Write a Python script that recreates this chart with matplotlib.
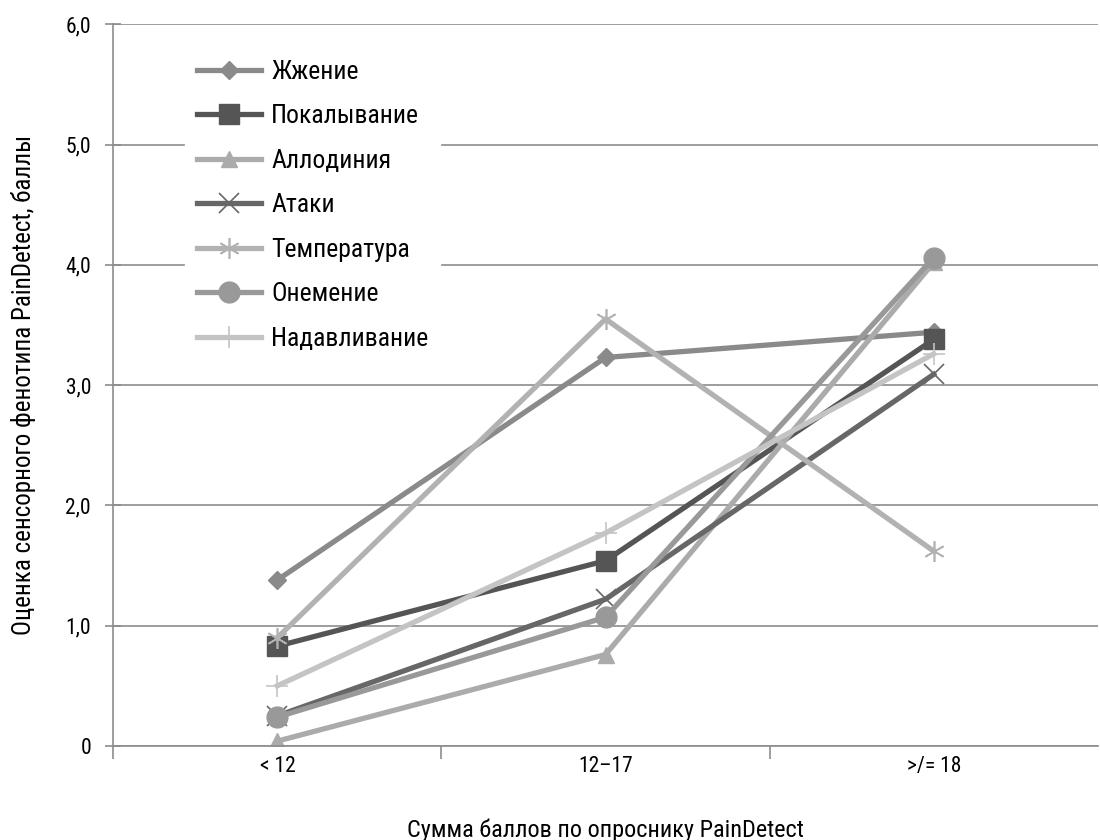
import numpy as np
import matplotlib.pyplot as plt
import logging

logging.getLogger("matplotlib.font_manager").setLevel(logging.ERROR)
plt.rcParams['font.family'] = ['Roboto Condensed', 'Liberation Sans Narrow',
                               'Liberation Sans', 'DejaVu Sans']

# DATA
groups = ["< 12", "12–17", ">/= 18"]
series_names = ["Жжение", "Покалывание", "Аллодиния", "Атаки",
                "Температура", "Онемение", "Надавливание"]
zhzhenie = [1.38, 3.23, 3.44]
pokalyvanie = [0.83, 1.54, 3.38]
allodiniya = [0.04, 0.76, 4.02]
ataki = [0.25, 1.22, 3.09]
temperatura = [0.90, 3.55, 1.62]
onemenie = [0.24, 1.07, 4.06]
nadavlivanie = [0.50, 1.77, 3.26]
values = [zhzhenie, pokalyvanie, allodiniya, ataki,
          temperatura, onemenie, nadavlivanie]

# STYLE
colors = ["#8a8a8a", "#555555", "#ababab", "#676767",
          "#b2b2b2", "#999999", "#c4c4c4"]
markers = ["D", "s", "^", "x", "*", "o", "+"]
msizes = [9, 14, 12, 14, 15, 15, 16]

fig = plt.figure(figsize=(11, 8.4), dpi=100)
ax = fig.add_axes([0.103, 0.112, 0.895, 0.859])

x = np.arange(len(groups))
for name, vals, c, m, ms in zip(series_names, values, colors, markers, msizes):
    kw = dict(markerfacecolor=c, markeredgecolor=c)
    if m in ("x", "*", "+"):
        kw = dict(markeredgecolor=c, markeredgewidth=1.2)
    if m == "*":
        m = (6, 2, 0)
    ax.plot(x, vals, color=c, linewidth=3.8, marker=m, markersize=ms,
            label=name, **kw)

ax.set_xlim(-0.5, 2.5)
ax.set_ylim(0, 6)
ax.set_yticks(np.arange(0, 7, 1))
ax.set_yticklabels(["0", "1,0", "2,0", "3,0", "4,0", "5,0", "6,0"])
ax.yaxis.grid(True, color="#8c8c8c", linewidth=1.2)
ax.set_axisbelow(True)

# category labels between boundary ticks
ax.set_xticks([-0.5, 0.5, 1.5])
ax.set_xticklabels([])
ax.set_xticks(x, minor=True)
ax.set_xticklabels(groups, minor=True)
ax.tick_params(axis="x", which="minor", length=0, pad=7, labelsize=15.5)
ax.tick_params(axis="x", which="major", length=9, width=1.2, color="#8c8c8c")
ax.tick_params(axis="y", direction="inout", length=12, width=1.2,
               color="#8c8c8c", labelsize=15.5, pad=10)

for s in ["top", "right"]:
    ax.spines[s].set_visible(False)
ax.spines["left"].set_color("#8c8c8c")
ax.spines["bottom"].set_color("#8c8c8c")
ax.spines["left"].set_linewidth(1.2)
ax.spines["bottom"].set_linewidth(1.2)

ax.set_xlabel("Сумма баллов по опроснику PainDetect", fontsize=17.5,
              labelpad=30)
ax.set_ylabel("Оценка сенсорного фенотипа PainDetect, баллы", fontsize=18,
              labelpad=21)

leg = ax.legend(loc="upper left", bbox_to_anchor=(0.06, 0.985), frameon=True,
                fontsize=18.5, handlelength=2.5, handletextpad=0.4,
                labelspacing=0.8, borderpad=0.45, fancybox=False,
                edgecolor="white")
leg.get_frame().set_facecolor("white")
leg.get_frame().set_alpha(1)

fig.savefig("out.png", dpi=100)
